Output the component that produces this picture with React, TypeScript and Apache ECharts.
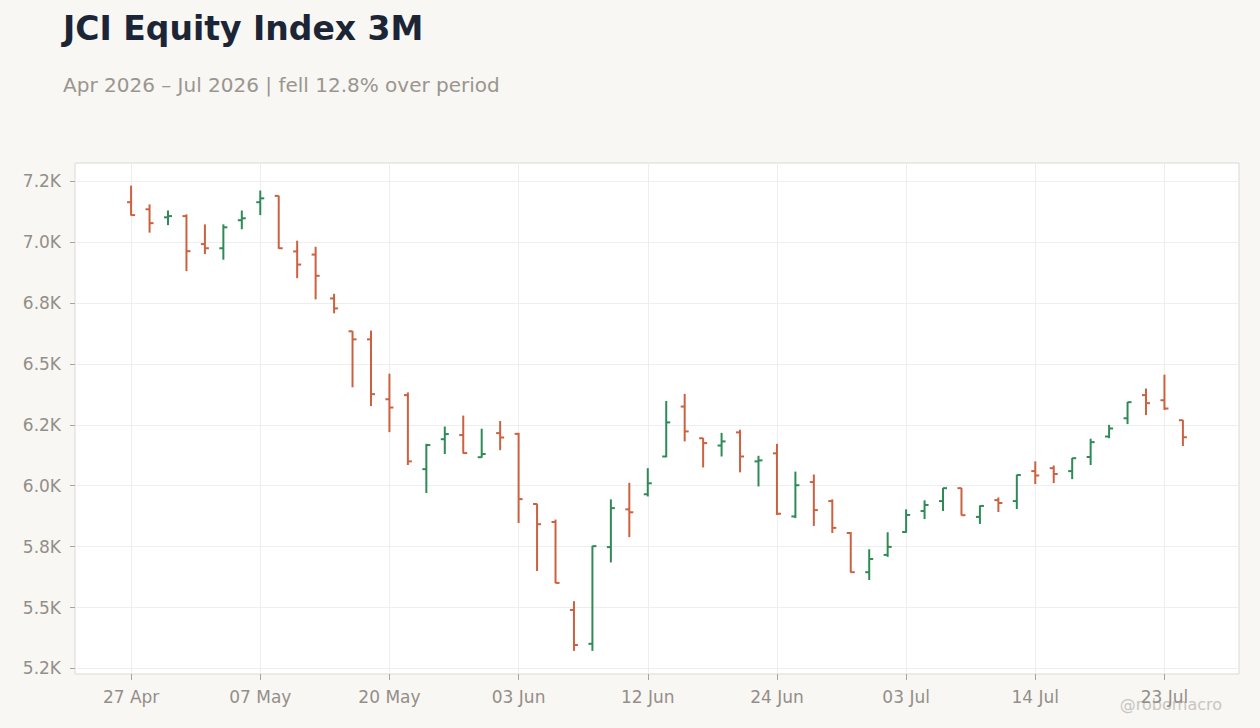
import React, { useEffect, useRef } from 'react';
import * as echarts from 'echarts';

// trading days shown on the chart
const dates = [
  '27 Apr', '28 Apr', '29 Apr', '30 Apr', '04 May', '05 May', '06 May', '07 May', '08 May', '11 May',
  '12 May', '13 May', '18 May', '19 May', '20 May', '21 May', '22 May', '25 May', '26 May', '29 May',
  '02 Jun', '03 Jun', '04 Jun', '05 Jun', '08 Jun', '09 Jun', '10 Jun', '11 Jun', '12 Jun', '15 Jun',
  '17 Jun', '18 Jun', '19 Jun', '22 Jun', '23 Jun', '24 Jun', '25 Jun', '26 Jun', '29 Jun', '30 Jun',
  '01 Jul', '02 Jul', '03 Jul', '06 Jul', '07 Jul', '08 Jul', '09 Jul', '10 Jul', '13 Jul', '14 Jul',
  '15 Jul', '16 Jul', '17 Jul', '20 Jul', '21 Jul', '22 Jul', '23 Jul', '24 Jul',
];

const opens = [
  7164, 7135, 7102, 7107, 6992, 6975, 7090, 7164, 7190, 6962,
  6949, 6769, 6634, 6601, 6355, 6372, 6068, 6191, 6208, 6117,
  6216, 6213, 5925, 5851, 5490, 5351, 5748, 5903, 5965, 6120,
  6325, 6195, 6165, 6219, 6100, 6133, 5874, 6015, 5937, 5806,
  5645, 5716, 5810, 5896, 5937, 5990, 5872, 5941, 5937, 6060,
  6072, 6060, 6118, 6202, 6277, 6372, 6351, 6269,
];

const highs = [
  7232, 7155, 7130, 7114, 7073, 7073, 7130, 7212, 7191, 7006,
  6981, 6788, 6635, 6637, 6460, 6383, 6172, 6243, 6288, 6234,
  6266, 6217, 5926, 5861, 5526, 5753, 5944, 6012, 6072, 6348,
  6377, 6196, 6217, 6230, 6123, 6172, 6058, 6046, 5944, 5810,
  5739, 5809, 5903, 5940, 5991, 5991, 5919, 5952, 6045, 6100,
  6083, 6114, 6193, 6250, 6344, 6399, 6456, 6270,
];

const lows = [
  7109, 7039, 7070, 6881, 6951, 6928, 7053, 7111, 6973, 6852,
  6765, 6708, 6404, 6327, 6220, 6085, 5970, 6130, 6132, 6115,
  6146, 5847, 5650, 5600, 5322, 5322, 5685, 5789, 5956, 6117,
  6182, 6075, 6120, 6055, 5997, 5880, 5867, 5835, 5806, 5643,
  5613, 5708, 5807, 5863, 5896, 5878, 5843, 5892, 5904, 6007,
  6011, 6027, 6085, 6195, 6253, 6290, 6311, 6163,
];

const closes = [
  7111, 7078, 7107, 6963, 6975, 7061, 7098, 7180, 6975, 6908,
  6862, 6728, 6601, 6376, 6321, 6100, 6167, 6212, 6134, 6130,
  6198, 5945, 5842, 5601, 5346, 5752, 5908, 5891, 6010, 6260,
  6223, 6175, 6182, 6120, 6104, 5885, 6002, 5900, 5827, 5645,
  5699, 5749, 5880, 5921, 5990, 5879, 5917, 5929, 6044, 6042,
  6048, 6113, 6179, 6235, 6343, 6339, 6317, 6199,
];

const yTicks = [5250, 5500, 5750, 6000, 6250, 6500, 6750, 7000, 7250];
const yTickLabels = ['5.2K', '5.5K', '5.8K', '6.0K', '6.2K', '6.5K', '6.8K', '7.0K', '7.2K'];
const xTickIdx = [0, 7, 14, 21, 28, 35, 42, 49, 56];

const UP = '#2e8b57';
const DOWN = '#cb613f';

const App: React.FC = () => {
  const chartRef = useRef<HTMLDivElement>(null);

  useEffect(() => {
    document.body.style.margin = '0';
    if (!chartRef.current) return;
    const chart = echarts.init(chartRef.current, null, { renderer: 'svg' });

    const data = dates.map((_, i) => [i, opens[i], highs[i], lows[i], closes[i]]);

    const option = {
      animation: false,
      backgroundColor: '#f8f7f4',
      textStyle: { fontFamily: 'DejaVu Sans' },
      title: [
        {
          text: 'JCI Equity Index 3M',
          left: 63,
          top: 12,
          padding: 0,
          textStyle: { fontSize: 33, fontWeight: 'bold', color: '#1c2535', fontFamily: 'DejaVu Sans' },
        },
        {
          text: 'Apr 2026 – Jul 2026 | fell 12.8% over period',
          left: 63,
          top: 75,
          padding: 0,
          textStyle: { fontSize: 20, fontWeight: 'normal', color: '#9a958f', fontFamily: 'DejaVu Sans' },
        },
      ],
      graphic: [
        {
          type: 'text',
          right: 38,
          top: 696,
          style: { text: '@robomacro', fontSize: 16, fill: '#c9c5c0', fontFamily: 'DejaVu Sans' },
        },
      ],
      grid: {
        left: 75,
        right: 21,
        top: 163,
        bottom: 54,
        show: true,
        backgroundColor: '#ffffff',
        borderColor: '#dcd8d3',
        borderWidth: 1,
      },
      xAxis: {
        type: 'value',
        min: -3.04,
        max: 60.04,
        axisLine: { show: false, onZero: false },
        axisTick: { show: true, length: 6, customValues: xTickIdx, lineStyle: { color: '#a9a39d' } },
        axisLabel: {
          customValues: xTickIdx,
          formatter: (v: number) => dates[Math.round(v)] ?? '',
          color: '#948e88',
          fontSize: 17,
          margin: 14,
        },
        splitLine: { show: true, lineStyle: { color: '#eeeeee', width: 1 } },
      },
      yAxis: {
        type: 'value',
        min: 5227,
        max: 7325,
        axisLine: { show: false, onZero: false },
        axisTick: { show: true, length: 5, customValues: yTicks, lineStyle: { color: '#a9a39d' } },
        axisLabel: {
          customValues: yTicks,
          formatter: (v: number) => yTickLabels[yTicks.indexOf(v)] ?? '',
          color: '#948e88',
          fontSize: 17,
          margin: 14,
        },
        splitLine: { show: true, lineStyle: { color: '#eeeeee', width: 1 } },
      },
      series: [
        {
          type: 'custom',
          data,
          encode: { x: 0, y: [1, 2, 3, 4] },
          clip: true,
          renderItem: (params: any, api: any) => {
            const i = api.value(0);
            const o = api.value(1);
            const h = api.value(2);
            const l = api.value(3);
            const c = api.value(4);
            const pH = api.coord([i, h]);
            const pL = api.coord([i, l]);
            const pO = api.coord([i, o]);
            const pC = api.coord([i, c]);
            const style = { stroke: c >= o ? UP : DOWN, lineWidth: 2 };
            return {
              type: 'group',
              children: [
                { type: 'line', shape: { x1: pH[0], y1: pH[1], x2: pL[0], y2: pL[1] }, style },
                { type: 'line', shape: { x1: pO[0] - 4, y1: pO[1], x2: pO[0], y2: pO[1] }, style },
                { type: 'line', shape: { x1: pC[0], y1: pC[1], x2: pC[0] + 4, y2: pC[1] }, style },
              ],
            };
          },
        },
      ],
    };

    chart.setOption(option as any);
    return () => {
      chart.dispose();
    };
  }, []);

  return <div ref={chartRef} style={{ width: 1260, height: 728 }} />;
};

export default App;
